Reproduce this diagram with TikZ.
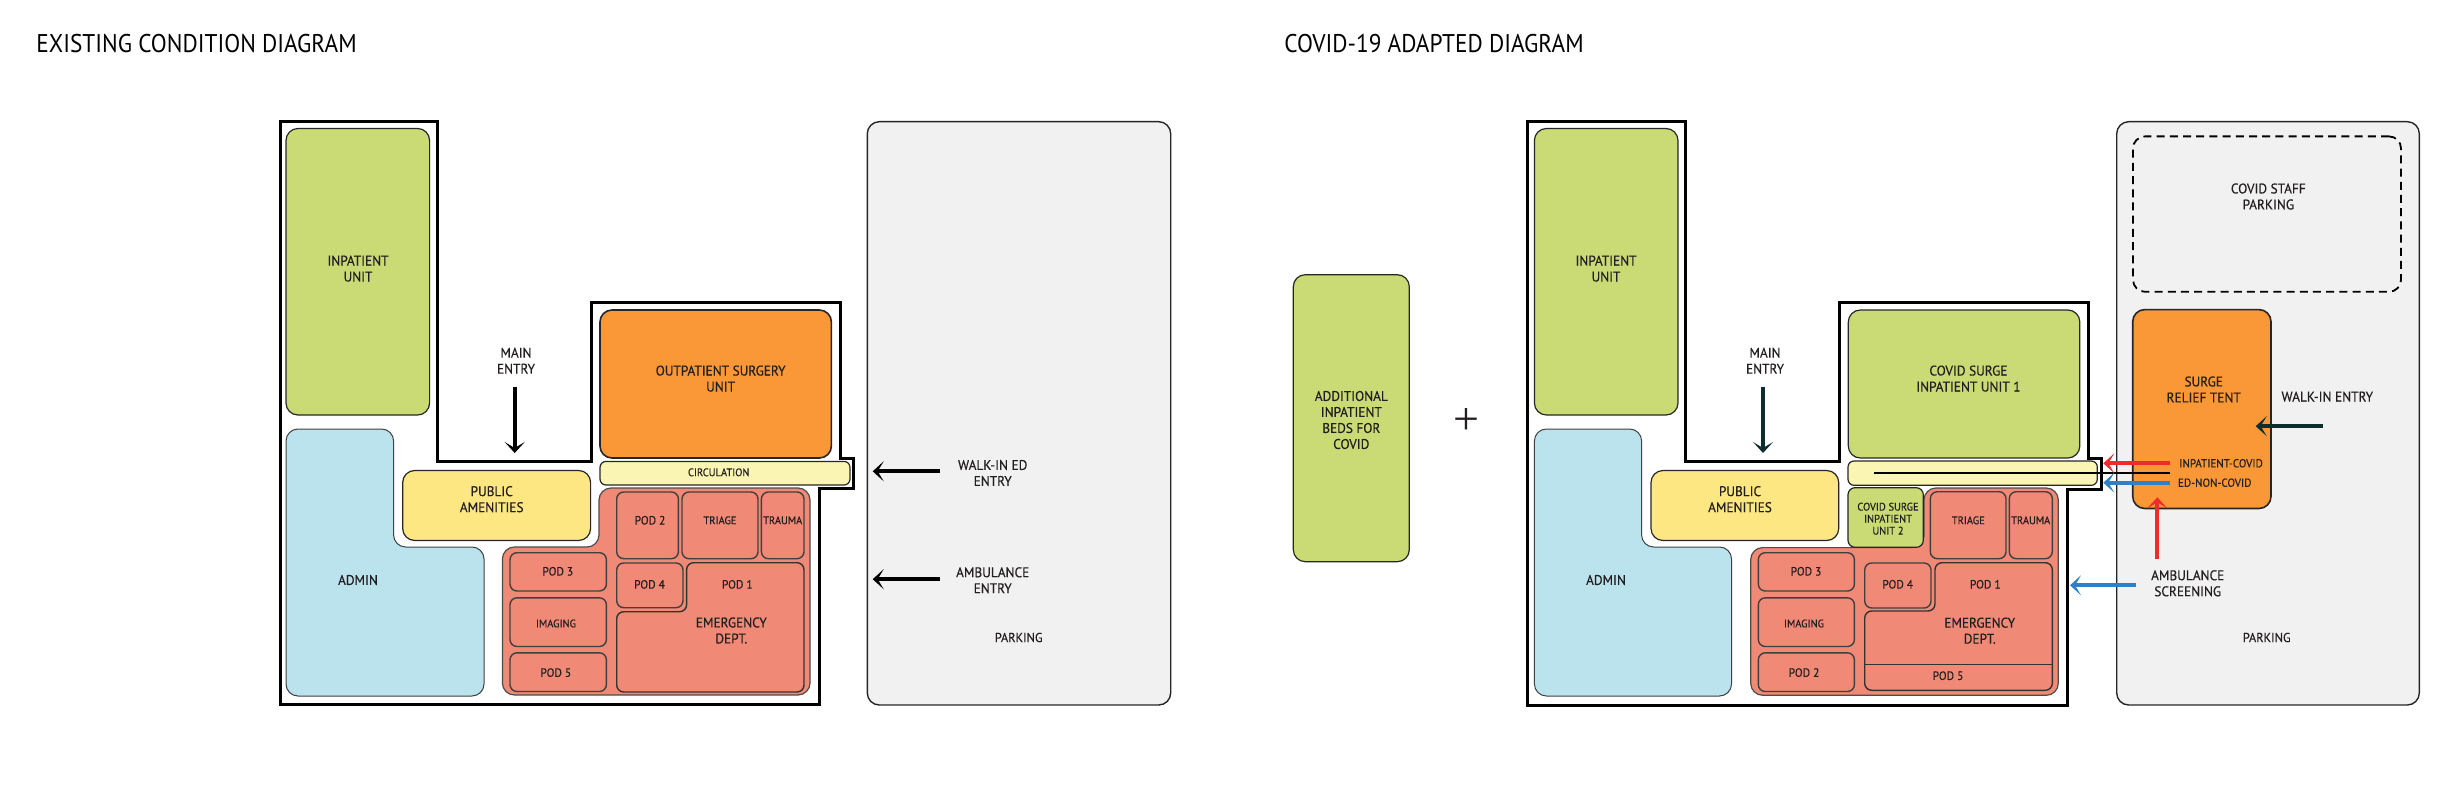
\documentclass[tikz,border=0pt]{standalone}
\usepackage{fontspec}
\setmainfont{PT Sans}[FakeStretch=0.95,FakeBold=0.35]
\newfontfamily\titlefont[FakeStretch=0.91]{PT Sans}
\newfontfamily\plainfont{Liberation Serif}
\usetikzlibrary{arrows.meta}
\definecolor{inkc}{HTML}{231F20}
\definecolor{greenc}{HTML}{CADB75}
\definecolor{bluec}{HTML}{BAE3EE}
\definecolor{yellowc}{HTML}{FDE782}
\definecolor{paleyc}{HTML}{FBF5B4}
\definecolor{orangec}{HTML}{FA9838}
\definecolor{salmonc}{HTML}{F08975}
\definecolor{parkc}{HTML}{F1F1F1}
\definecolor{arrowred}{HTML}{EF2B2D}
\definecolor{arrowblue}{HTML}{2F80C4}
\definecolor{arrowteal}{HTML}{0E2E2E}
\tikzset{
  x=0.5pt,y=-0.5pt,
  shell/.style={draw=black,line width=1.5pt,line join=miter},
  roombase/.style={draw=black!85,line width=0.6pt,rounded corners=6pt,inner sep=0pt,outer sep=0pt,rectangle},
  greenroom/.style={roombase,fill=greenc},
  blueroom/.style={draw=black!75,line width=0.5pt,fill=bluec,rounded corners=6pt},
  yellowroom/.style={roombase,fill=yellowc},
  orangeroom/.style={roombase,fill=orangec,line width=0.8pt},
  circroom/.style={roombase,fill=paleyc,rounded corners=3pt},
  edouter/.style={draw=black!70,line width=0.6pt,fill=salmonc,rounded corners=6pt},
  podroom/.style={roombase,fill=salmonc,draw=black!75,line width=0.7pt,rounded corners=3.5pt},
  edinner/.style={draw=black!80,line width=0.7pt,rounded corners=3.5pt},
  parkroom/.style={roombase,fill=parkc,line width=0.7pt},
  dashroom/.style={roombase,draw=black,line width=0.9pt,dash pattern=on 4pt off 2.6pt},
  lab/.style={text=inkc,align=center,inner sep=0pt,font=\fontsize{7}{8}\selectfont},
  labpod/.style={lab,font=\fontsize{6}{6}\selectfont},
  labtiny/.style={lab,font=\fontsize{5.5}{6}\selectfont},
  labflow/.style={lab,font=\fontsize{5.8}{6}\selectfont},
  labpark/.style={lab,font=\fontsize{6.5}{7}\selectfont},
  titlelab/.style={text=black,inner sep=0pt,anchor=west,font=\titlefont\fontsize{12.8}{14}\selectfont},
  flow/.style={line width=1.9pt,-{Stealth[length=5.5pt,width=10pt,inset=3pt]}},
  flowblack/.style={flow,draw=black},
  flowteal/.style={flow,draw=arrowteal},
  flowred/.style={flow,draw=arrowred},
  flowblue/.style={flow,draw=arrowblue},
}
\newcommand{\room}[6]{\node[#6,minimum width={(#4-#2)*0.5pt},minimum height={(#5-#3)*0.5pt}] (#1) at ({(#2+#4)/2},{(#3+#5)/2}) {};}
\begin{document}
\begin{tikzpicture}
\useasboundingbox (0,0) rectangle (2448,792);
% titles
\node[titlelab] (titleA) at (36,44) {EXISTING CONDITION DIAGRAM};
\node[titlelab] (titleB) at (1284,44) {COVID-19 ADAPTED DIAGRAM};

% ---------- existing condition ----------
\draw[shell] (280,122) -- (437,122) -- (437,461) -- (591,461) -- (591,302) -- (840,302) -- (840,458.6) -- (853,458.6) -- (853,488.7) -- (819.5,488.7) -- (819.5,704) -- (280,704) -- cycle;
\room{aInp}{286}{128.5}{429.6}{415}{greenroom}
\draw[blueroom] (286,429) -- (393.6,429) -- (393.6,547) -- (484,547) -- (484,696) -- (286,696) -- cycle;
\room{aPub}{402.7}{470.5}{590.6}{540.5}{yellowroom}
\room{aOut}{600}{310}{831.4}{458}{orangeroom}
\room{aCirc}{600}{461.4}{850}{485}{circroom}
\draw[edouter] (502.4,547) -- (599,547) -- (599,488) -- (810,488) -- (810,695) -- (502.4,695) -- cycle;
\room{aPod2}{616.7}{492}{678.4}{558.7}{podroom}
\room{aTri}{682}{492}{758}{558.7}{podroom}
\room{aTra}{761.4}{492}{804}{558.7}{podroom}
\room{aPod3}{510}{552.7}{606.4}{591}{podroom}
\room{aImg}{510}{597.8}{606.4}{646.5}{podroom}
\room{aPod5}{510}{652.8}{606.4}{691.5}{podroom}
\draw[edinner] (686.6,562.7) -- (804,562.7) -- (804,692) -- (616.7,692) -- (616.7,611.7) -- (686.6,611.7) -- cycle;
\room{aPod4}{616.7}{563}{683}{607.7}{podroom}
\room{aPark}{867.3}{121.7}{1170.7}{705}{parkroom}

\node[lab] (tInpA) at (358,268.6) {INPATIENT\\UNIT};
\node[lab] (tMainA) at (516,360.7) {MAIN\\ENTRY};
\node[lab] (tOutA) at (720.6,378.6) {OUTPATIENT SURGERY\\UNIT};
\node[labtiny] (tCircA) at (718.7,472.3) {CIRCULATION};
\node[lab] (tPubA) at (491.7,499.2) {PUBLIC\\AMENITIES};
\node[lab] (tAdmA) at (358,580) {ADMIN};
\node[labpod] (tP2A) at (650,520.3) {POD 2};
\node[labtiny] (tTriA) at (720,520.3) {TRIAGE};
\node[labtiny] (tTraA) at (782.7,520.3) {TRAUMA};
\node[labpod] (tP3A) at (557.8,571.3) {POD 3};
\node[labtiny] (tImgA) at (556,623.5) {IMAGING};
\node[labpod] (tP5A) at (555.8,672.6) {POD 5};
\node[labpod] (tP4A) at (649.5,584.4) {POD 4};
\node[labpod] (tP1A) at (737.3,584.4) {POD 1};
\node[lab] (tEdA) at (731.3,630.5) {EMERGENCY\\DEPT.};
\node[lab] (tWalkA) at (992.7,473) {WALK-IN ED\\ENTRY};
\node[lab] (tAmbA) at (992.7,580.3) {AMBULANCE\\ENTRY};
\node[labpark] (tParkA) at (1018.7,637.5) {PARKING};

\coordinate (mA1) at (514.7,386.7); \coordinate (mA2) at (514.7,453);
\coordinate (wA1) at (940,471.3); \coordinate (wA2) at (872.7,471.3);
\coordinate (bA1) at (940,579.2); \coordinate (bA2) at (872.7,579.2);
\draw[flowblack] (mA1) -- (mA2);
\draw[flowblack] (wA1) -- (wA2);
\draw[flowblack] (bA1) -- (bA2);

% ---------- additional beds ----------
\room{bAdd}{1293.3}{274.7}{1409.3}{561.7}{greenroom}
\node[lab] (tAdd) at (1351.3,420) {ADDITIONAL\\INPATIENT\\BEDS FOR\\COVID};
\node[text=inkc,inner sep=0pt,font=\plainfont\fontsize{23}{23}\selectfont] (tPlus) at (1466.7,421.3) {+};

% ---------- adapted ----------
\draw[shell] (1527.6,122) -- (1685.6,122) -- (1685.6,461.5) -- (1839.8,461.5) -- (1839.8,302) -- (2088,302) -- (2088,458.6) -- (2101.7,458.6) -- (2101.7,489.3) -- (2067.3,489.3) -- (2067.3,705) -- (1527.6,705) -- cycle;
\room{cInp}{1534.4}{128.5}{1678}{415}{greenroom}
\draw[blueroom] (1534.4,429) -- (1641.6,429) -- (1641.6,547) -- (1731.5,547) -- (1731.5,696) -- (1534.4,696) -- cycle;
\room{cPub}{1651}{470.5}{1838.7}{540.5}{yellowroom}
\room{cSur1}{1848.3}{310}{2079.8}{458}{greenroom}
\room{cCirc}{1848}{461}{2097.3}{485.3}{circroom}
\draw[edouter] (1750.7,547.6) -- (1924,547.6) -- (1924,488) -- (2058.3,488) -- (2058.3,695.3) -- (1750.7,695.3) -- cycle;
\room{cSur2}{1848}{487.7}{1923.3}{547.3}{greenroom,rounded corners=3.5pt}
\room{cTri}{1930.3}{491.7}{2006}{558.7}{podroom}
\room{cTra}{2009.3}{491.7}{2052.3}{558.7}{podroom}
\room{cPod3}{1758.3}{552.7}{1854.4}{591}{podroom}
\room{cImg}{1758.3}{597.8}{1854.4}{646.5}{podroom}
\room{cPod2}{1758.3}{652.8}{1854.4}{691.5}{podroom}
\draw[edinner] (1935,562.7) -- (2052.3,562.7) -- (2052.3,690.3) -- (1864.7,690.3) -- (1864.7,611) -- (1935,611) -- cycle;
\coordinate (cPodL) at (1864.7,664.7); \coordinate (cPodR) at (2052.3,664.7);
\draw[edinner] (cPodL) -- (cPodR);
\room{cPod4}{1864.7}{563}{1931}{608}{podroom}
\room{cPark}{2116.7}{121.7}{2419.3}{705}{parkroom}
\room{cDash}{2133}{136.4}{2401}{291.8}{dashroom}
\room{cTent}{2132.7}{309.6}{2271}{508.5}{orangeroom}

\node[lab] (tInpC) at (1606,268.6) {INPATIENT\\UNIT};
\node[lab] (tMainC) at (1765,360.7) {MAIN\\ENTRY};
\node[lab] (tSur1) at (1968.4,378.6) {COVID SURGE\\INPATIENT UNIT 1};
\node[lab] (tPubC) at (1740,499.2) {PUBLIC\\AMENITIES};
\node[lab] (tAdmC) at (1606,580) {ADMIN};
\node[labtiny] (tSur2) at (1888,518.7) {COVID SURGE\\INPATIENT\\UNIT 2};
\node[labtiny] (tTriC) at (1968.3,520.3) {TRIAGE};
\node[labtiny] (tTraC) at (2030.7,520.3) {TRAUMA};
\node[labpod] (tP3C) at (1806,571.3) {POD 3};
\node[labtiny] (tImgC) at (1804,623.5) {IMAGING};
\node[labpod] (tP2C) at (1804,672.6) {POD 2};
\node[labpod] (tP4C) at (1897.7,584.3) {POD 4};
\node[labpod] (tP1C) at (1985.3,584.3) {POD 1};
\node[lab] (tEdC) at (1979.7,630.7) {EMERGENCY\\DEPT.};
\node[labpod] (tP5C) at (1948,675.7) {POD 5};
\node[lab] (tStaff) at (2268.3,196.5) {COVID STAFF\\PARKING};
\node[lab] (tTent) at (2203.7,389.5) {SURGE\\RELIEF TENT};
\node[lab] (tWalkC) at (2327.3,396.6) {WALK-IN ENTRY};
\node[labflow] (tIC) at (2221,463.3) {INPATIENT-COVID};
\node[labflow] (tENC) at (2214.7,482.7) {ED-NON-COVID};
\node[lab] (tAmbC) at (2187.7,583.3) {AMBULANCE\\SCREENING};
\node[labpark] (tParkC) at (2266.7,637.5) {PARKING};

\coordinate (mC1) at (1763,386.7); \coordinate (mC2) at (1763,453);
\coordinate (lin1) at (2170,473); \coordinate (lin2) at (1874.3,473);
\coordinate (rA1) at (2170,463.3); \coordinate (rA2) at (2103.3,463.3);
\coordinate (bC1) at (2170,482.7); \coordinate (bC2) at (2103.3,482.7);
\coordinate (rU1) at (2157.3,559); \coordinate (rU2) at (2157.3,497.3);
\coordinate (bL1) at (2136,585.3); \coordinate (bL2) at (2070,585.3);
\coordinate (wC1) at (2322.7,426.2); \coordinate (wC2) at (2255.7,426.2);
\draw[flowteal] (mC1) -- (mC2);
\draw[flowteal] (wC1) -- (wC2);
\draw[black,line width=0.8pt] (lin1) -- (lin2);
\draw[flowred] (rA1) -- (rA2);
\draw[flowblue] (bC1) -- (bC2);
\draw[flowred] (rU1) -- (rU2);
\draw[flowblue] (bL1) -- (bL2);
\end{tikzpicture}
\end{document}
